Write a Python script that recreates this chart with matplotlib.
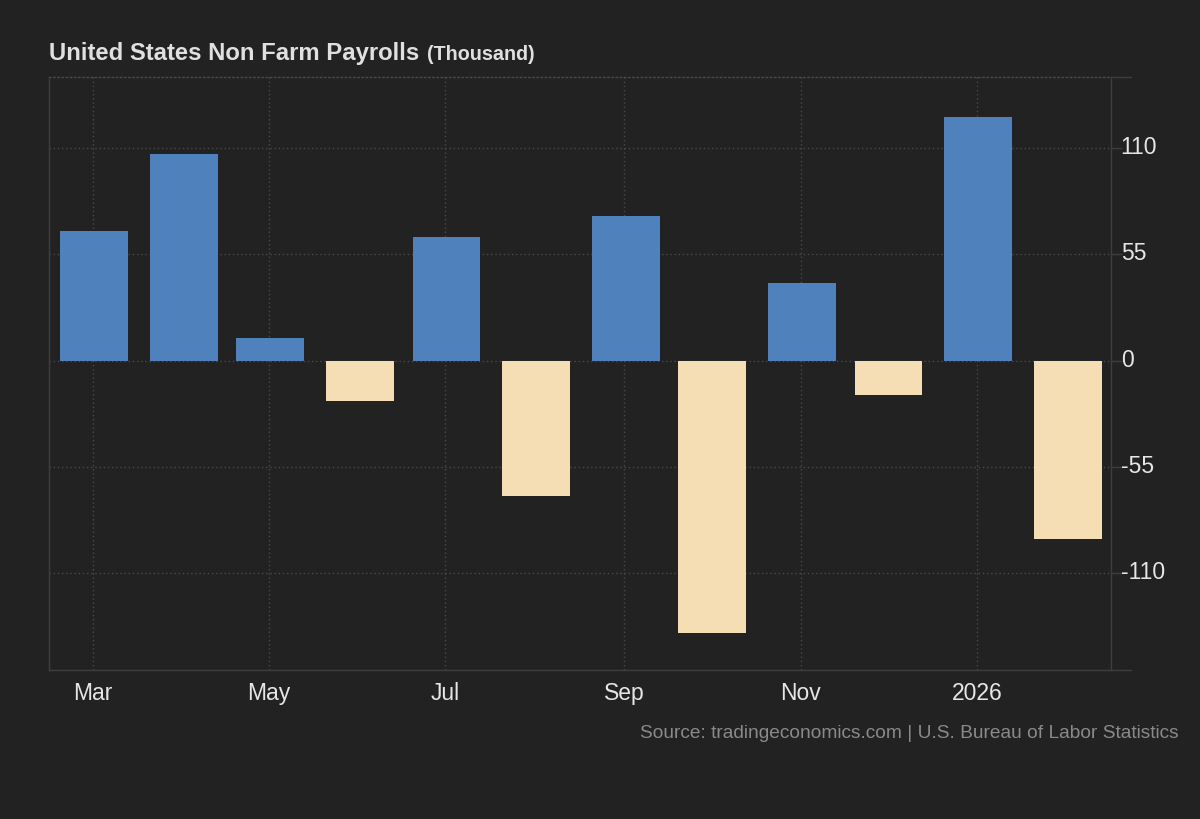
import matplotlib
matplotlib.use("Agg")
import matplotlib.pyplot as plt
import matplotlib.dates as mdates
import matplotlib.transforms as mtransforms
import numpy as np
import datetime as dt

# Data
months = ["2025-03", "2025-04", "2025-05", "2025-06", "2025-07", "2025-08",
          "2025-09", "2025-10", "2025-11", "2025-12", "2026-01", "2026-02"]
values = [67, 107, 12, -21, 64, -70, 75, -141, 40, -18, 126, -92]
y_ticks = [-110, -55, 0, 55, 110]
x_tick_months = ["2025-03", "2025-05", "2025-07", "2025-09", "2025-11", "2026-01"]
x_tick_labels = ["Mar", "May", "Jul", "Sep", "Nov", "2026"]

BG = "#222222"
BLUE = "#4f81bd"
CREAM = "#f5deb3"
GRID = "#4a4a4a"
SPINE = "#3e3e3e"
TXT = "#e6e6e6"

plt.rcParams['font.family'] = ['Liberation Sans', 'DejaVu Sans']

def to_num(s):
    y, m = s.split("-")
    return mdates.date2num(dt.datetime(int(y), int(m), 1))

xs = np.array([to_num(m) for m in months])
colors = [BLUE if v >= 0 else CREAM for v in values]

fig = plt.figure(figsize=(12, 8.2), dpi=100, facecolor=BG)
ax = fig.add_axes([49/1200, 1-671/820, (1111-49)/1200, (671-78.3)/820])
ax.set_facecolor(BG)

ax.bar(xs + 0.4, values, width=23.5, color=colors, zorder=3, linewidth=0)

ax.set_xlim(to_num("2025-03") - 15.2, to_num("2026-01") + 46.4)
ax.set_ylim(-160, 146.6)

ax.set_yticks(y_ticks)
ax.set_yticklabels([str(t) for t in y_ticks])
ax.yaxis.tick_right()
ax.set_xticks([to_num(m) for m in x_tick_months])
ax.set_xticklabels(x_tick_labels)

ax.tick_params(axis='y', colors=SPINE, labelcolor=TXT, labelsize=16.5,
               length=8, width=1, pad=-1, direction='out')
ax.tick_params(axis='x', colors=SPINE, labelcolor=TXT, labelsize=16.5,
               length=0, pad=8)

# shift y labels up slightly
offset = mtransforms.ScaledTranslation(0, 4/100, fig.dpi_scale_trans)
for lab in ax.get_yticklabels():
    lab.set_transform(lab.get_transform() + offset)

ax.grid(True, color=GRID, linestyle=(0, (1, 2)), linewidth=1, zorder=0)

for side in ['left', 'bottom', 'right']:
    ax.spines[side].set_color(SPINE)
    ax.spines[side].set_linewidth(1)
ax.spines['top'].set_color(GRID)
ax.spines['top'].set_linestyle((0, (1, 2)))
ax.spines['top'].set_linewidth(1)

# small extension strokes at top and bottom of the right axis
ext = 20 / (1111 - 49)
for yy in (0, 1):
    ax.plot([1, 1 + ext], [yy, yy], transform=ax.transAxes, color=SPINE,
            linewidth=1, clip_on=False)

# Title
t1 = fig.text(49/1200, 1-60/820, "United States Non Farm Payrolls",
              fontsize=17.2, fontweight='bold', color="#e0e0e0", va='baseline', ha='left')
fig.canvas.draw()
bb = t1.get_window_extent()
x2 = (bb.x1 + 8) / fig.bbox.width
fig.text(x2, 1-60/820, "(Thousand)", fontsize=14.2, fontweight='bold',
         color="#e0e0e0", va='baseline', ha='left')

fig.text(1179/1200, 1-738/820,
         "Source: tradingeconomics.com | U.S. Bureau of Labor Statistics",
         fontsize=13.8, color="#8a8a8a", ha='right', va='baseline')

fig.savefig("out.png", dpi=100, facecolor=BG)
